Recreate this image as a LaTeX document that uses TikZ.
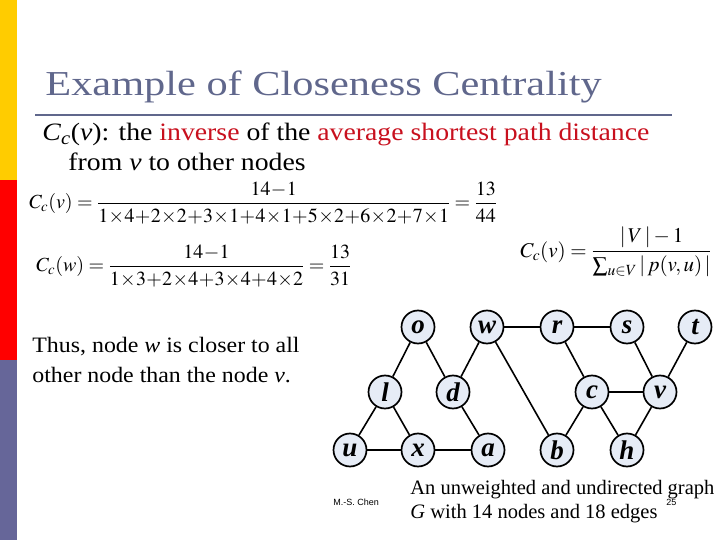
\documentclass[tikz,border=0pt]{standalone}
\usepackage{mathptmx}
\usepackage[no-math]{fontspec}
\setmainfont{Liberation Serif}
\newfontfamily\smallsans{Liberation Sans}
\usepackage{xcolor}
\usetikzlibrary{positioning}

\definecolor{baryellow}{RGB}{255,204,0}
\definecolor{barred}{RGB}{255,0,0}
\definecolor{barpurple}{RGB}{102,102,153}
\definecolor{titleblue}{RGB}{96,103,140}
\definecolor{textred}{RGB}{200,16,30}
\definecolor{nodefill}{RGB}{230,236,246}
\newcommand\tightops{\medmuskip=0.3mu\relax}

\begin{document}
\begin{tikzpicture}[x=1pt,y=-1pt,thick,on grid,
    main node/.style={circle,draw,fill=nodefill,line width=1.7pt,minimum size=33pt,inner sep=0pt,font=\fontsize{27}{27}\selectfont\bfseries\itshape},
    slide text/.style={anchor=base west,inner sep=0pt,font=\fontsize{#1}{#1}\selectfont},
    slide text/.default=22,
    formula/.style={anchor=west,inner sep=0pt,font=\fontsize{#1}{22}\selectfont},
    formula/.default=20]
    \useasboundingbox (0,0) rectangle (720,540);
    \fill[baryellow] (0,0) rectangle (17,180);
    \fill[barred] (0,180) rectangle (17,360);
    \fill[barpurple] (0,360) rectangle (17,540);

    \node[slide text=35,text=titleblue] (title) at (45,96) {\scalebox{1.21}[1]{Example of Closeness Centrality}};
    \draw[titleblue,line width=2pt] (35,115) -- (672,115);
    \node[slide text=25] (def1) at (42,141) {\scalebox{1.11}[1]{\textit{C}\textsubscript{\textit{c}}(\textit{v}): the \textcolor{textred}{inverse} of the \textcolor{textred}{average shortest path distance}}};
    \node[slide text=25] (def2) at (68,171) {\scalebox{1.11}[1]{from \textit{v} to other nodes}};

    \node[formula] (eqv) at (29,203)
        {$\tightops\displaystyle C_c(v)=\frac{14-1}{1\times4+2\times2+3\times1+4\times1+5\times2+6\times2+7\times1}=\frac{13}{44}$};
    \node[formula] (eqw) at (36,266)
        {$\tightops\displaystyle C_c(w)=\frac{14-1}{1\times3+2\times4+3\times4+4\times2}=\frac{13}{31}$};
    \node[formula=21] (eqdef) at (520,252)
        {$\displaystyle C_c(v)=\frac{|\,V\,|-1}{\sum_{u\in V}|\,p(v,u)\,|}$};

    \node[slide text] (thus1) at (32,352) {\scalebox{1.085}[1]{Thus, node \textit{w} is closer to all}};
    \node[slide text] (thus2) at (32,382) {\scalebox{1.085}[1]{other node than the node \textit{v}.}};

    \node[main node] (o) at (418,327) {o};
    \node[main node] (w) [right=69pt of o] {w};
    \node[main node] (r) [right=70pt of w] {r};
    \node[main node] (s) [right=70pt of r] {s};
    \node[main node] (t) [right=68pt of s] {t};
    \node[main node] (l) [below left=65pt and 33pt of o] {l};
    \node[main node] (d) [below right=65pt and 35pt of o] {d};
    \node[main node] (c) [below right=65pt and 35pt of r] {c};
    \node[main node] (v) [below left=65pt and 35pt of t] {v};
    \node[main node] (u) [below left=58pt and 35pt of l] {u};
    \node[main node] (x) [below right=58pt and 33pt of l] {x};
    \node[main node] (a) [below right=58pt and 35pt of d] {a};
    \node[main node] (b) [below left=58pt and 35pt of c] {b};
    \node[main node] (h) [below right=58pt and 35pt of c] {h};

    \path[line width=1.6pt]
        (o) edge (l)
        (o) edge (d)
        (w) edge (d)
        (w) edge (r)
        (w) edge (b)
        (r) edge (s)
        (r) edge (c)
        (s) edge (v)
        (t) edge (v)
        (l) edge (u)
        (l) edge (x)
        (u) edge (x)
        (x) edge (a)
        (d) edge (a)
        (c) edge (v)
        (c) edge (b)
        (c) edge (h)
        (v) edge (h)
        ;

    \node[anchor=base west,inner sep=0pt,font=\smallsans\fontsize{9}{9}\selectfont] (author) at (333,505) {M.-S. Chen};
    \node[anchor=base west,inner sep=0pt,font=\smallsans\fontsize{9}{9}\selectfont] (page) at (666,505) {25};
    \node[slide text=20.5] (cap1) at (410,494) {An unweighted and undirected graph};
    \node[slide text=20.5] (cap2) at (410,518) {\textit{G} with 14 nodes and 18 edges};
\end{tikzpicture}
\end{document}
